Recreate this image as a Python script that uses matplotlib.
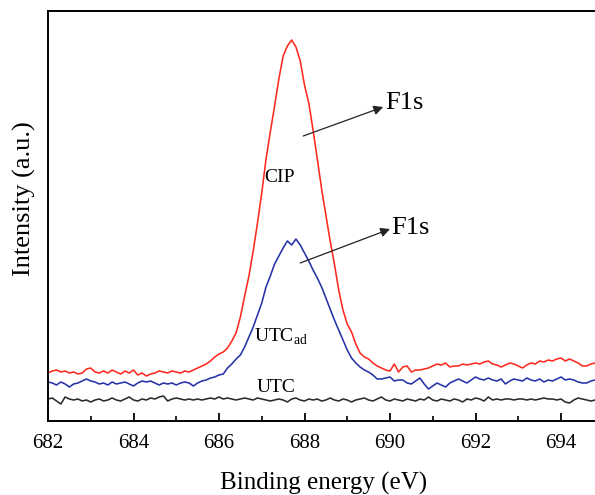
import matplotlib
matplotlib.use("Agg")
import matplotlib.pyplot as plt
import numpy as np

plt.rcParams['font.family'] = ['Liberation Serif', 'DejaVu Serif']
plt.rcParams['mathtext.fontset'] = 'custom'
plt.rcParams['mathtext.rm'] = 'Liberation Serif'

# binding energy grid (eV), 0.1 eV step
energy = np.round(np.arange(682.0, 695.05, 0.1), 1)

# CIP (red)
cip = [48, 50, 51, 49, 50, 48, 49, 47, 48, 52,
       53, 49, 48, 50, 48, 51, 49, 47, 50, 48,
       51, 46, 48, 45, 47, 48, 50, 49, 48, 50,
       49, 48, 50, 49, 51, 53, 55, 57, 60, 64,
       67, 69, 73, 80, 88, 104, 125, 145, 170, 198,
       228, 262, 289, 315, 342, 365, 375, 381, 374, 360,
       336, 318, 291, 262, 232, 206, 180, 157, 131, 111,
       97, 89, 77, 68, 64, 62, 58, 55, 53, 51,
       50, 57, 49, 54, 55, 49, 51, 51, 52, 53,
       55, 57, 56, 58, 54, 55, 55, 57, 56, 57,
       58, 57, 59, 60, 57, 56, 54, 56, 58, 57,
       55, 53, 56, 58, 57, 60, 59, 61, 60, 62,
       63, 60, 62, 60, 58, 55, 55, 57, 58, 57,
       58]

# UTC_ad (blue)
utc_ad = [39, 38, 36, 39, 37, 34, 37, 38, 40, 42,
          40, 39, 37, 38, 36, 39, 37, 38, 39, 37,
          35, 38, 40, 39, 40, 38, 36, 38, 37, 38,
          36, 38, 39, 38, 35, 38, 40, 41, 43, 44,
          46, 47, 53, 57, 62, 66, 74, 84, 94, 106,
          118, 134, 145, 157, 165, 173, 180, 176, 182, 176,
          168, 160, 151, 143, 134, 123, 112, 101, 91, 81,
          71, 63, 58, 54, 51, 49, 46, 42, 42, 43,
          44, 40, 41, 41, 38, 37, 40, 43, 37, 32,
          35, 38, 36, 34, 38, 40, 42, 40, 38, 41,
          44, 42, 41, 43, 41, 40, 42, 37, 40, 42,
          41, 40, 43, 41, 40, 42, 39, 41, 40, 42,
          44, 41, 42, 41, 39, 38, 38, 40, 41, 40,
          41]

# UTC (black)
utc = [22, 23, 20, 17, 24, 22, 21, 22, 20, 21,
       19, 21, 22, 20, 21, 23, 21, 20, 22, 24,
       21, 20, 22, 21, 23, 22, 24, 25, 20, 22,
       23, 22, 21, 22, 21, 22, 21, 22, 23, 22,
       24, 22, 23, 22, 21, 22, 23, 22, 21, 23,
       22, 21, 20, 21, 22, 21, 19, 22, 23, 21,
       20, 22, 21, 22, 20, 21, 23, 21, 20, 22,
       21, 19, 21, 22, 23, 21, 20, 22, 24, 21,
       20, 22, 21, 20, 22, 21, 20, 22, 21, 24,
       21, 20, 22, 21, 20, 22, 21, 19, 22, 21,
       23, 22, 20, 24, 21, 22, 21, 22, 22, 21,
       22, 22, 21, 22, 21, 22, 23, 22, 22, 21,
       22, 19, 18, 21, 23, 22, 21, 20, 21, 22,
       21]

fig = plt.figure(figsize=(5.95, 4.95), dpi=100)
ax = fig.add_axes([48 / 595, 74 / 495, 598.5 / 595, 410 / 495])

ax.plot(energy, cip, color='#ff2a1e', lw=1.15)
ax.plot(energy, utc_ad, color='#2632a8', lw=1.15)
ax.plot(energy, utc, color='#2b2b2b', lw=1.15)

ax.set_xlim(682, 696)
ax.set_ylim(0, 410)
ax.set_xticks(np.arange(682, 696, 2))
ax.set_xticks(np.arange(683, 696, 2), minor=True)
ax.set_yticks([])
ax.tick_params(axis='x', which='major', direction='in', length=6, width=1.3,
               labelsize=15, pad=9, top=False)
ax.tick_params(axis='x', which='minor', direction='in', length=3.5, width=1.2, top=False)
for s in ['left', 'bottom', 'top']:
    ax.spines[s].set_linewidth(1.4)
ax.spines['right'].set_visible(False)

fig.text(324 / 595, 1 - 490 / 495, 'Binding energy (eV)', fontsize=18,
         ha='center', va='baseline')
fig.text(24 / 595, 1 - 199 / 495, 'Intensity (a.u.)', fontsize=19,
         ha='center', va='center', rotation=90)

ax.text(687.06, 243, 'CIP', fontsize=14, va='center', ha='left')
ax.text(686.82, 84, r'UTC$_{\rm ad}$', fontsize=14, va='center', ha='left')
ax.text(686.87, 33, 'UTC', fontsize=14, va='center', ha='left')

ax.annotate('', xy=(689.84, 314), xytext=(687.97, 285),
            arrowprops=dict(arrowstyle='-|>', color='#222222', lw=0.9,
                            mutation_scale=14, shrinkA=0, shrinkB=0))
ax.text(689.88, 318, 'F1s', fontsize=19, va='center', ha='left')
ax.annotate('', xy=(690.0, 192), xytext=(687.9, 158),
            arrowprops=dict(arrowstyle='-|>', color='#222222', lw=0.9,
                            mutation_scale=14, shrinkA=0, shrinkB=0))
ax.text(690.04, 193, 'F1s', fontsize=19, va='center', ha='left')

fig.savefig('out.png', dpi=100)
